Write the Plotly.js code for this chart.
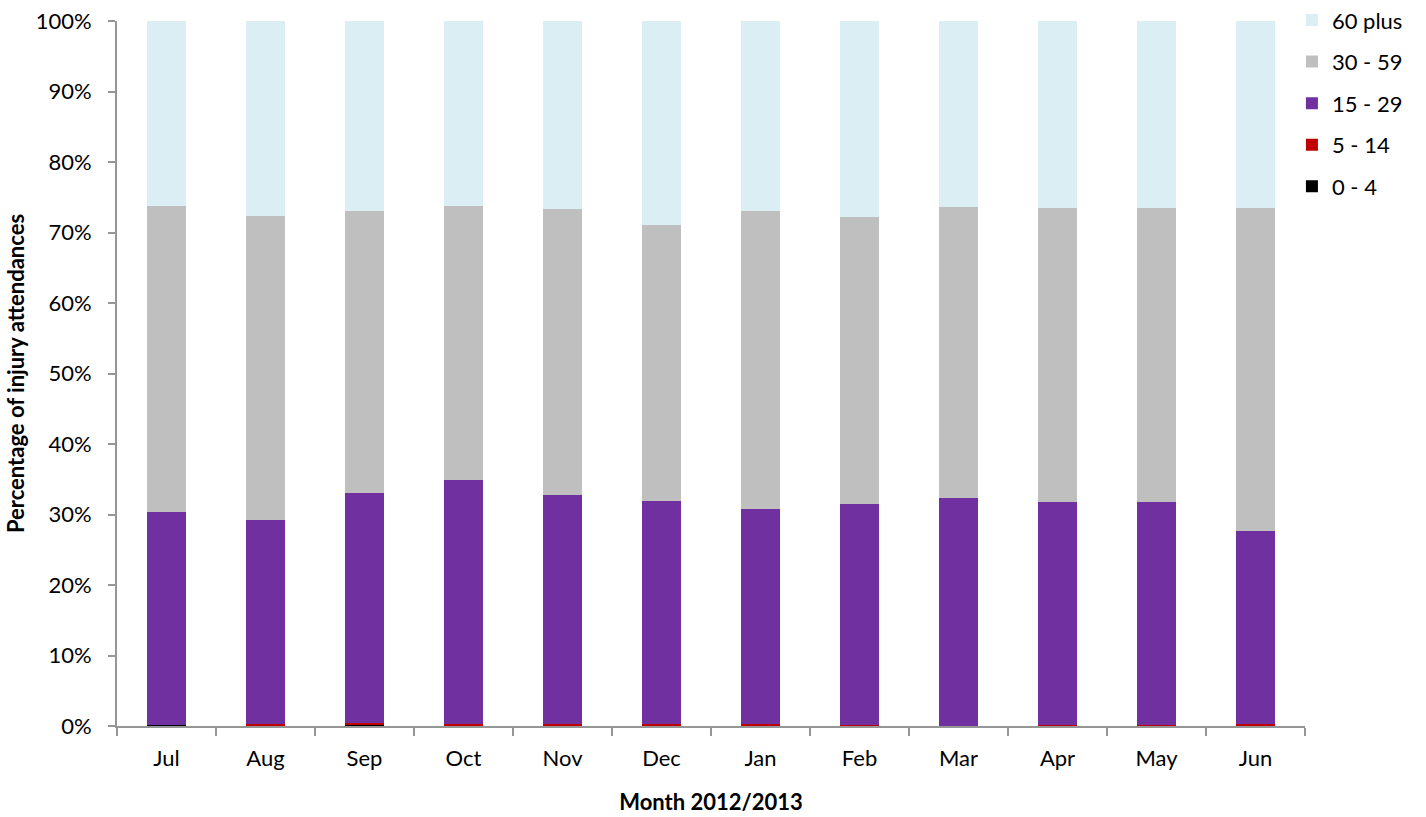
<!DOCTYPE html>
<html>
<head>
<meta charset="utf-8">
<script src="https://cdn.plot.ly/plotly-3.0.1.min.js"></script>
<style>html,body{margin:0;padding:0;background:#fff;}#chart{width:1426px;height:817px;}</style>
</head>
<body>
<div id="chart"></div>
<script>
const months = ["Jul","Aug","Sep","Oct","Nov","Dec","Jan","Feb","Mar","Apr","May","Jun"];
const age0to4   = [0.1, 0.05, 0.15, 0.05, 0.05, 0.05, 0.05, 0.05, 0.02, 0.05, 0.05, 0.05];
const age5to14  = [0.1, 0.25, 0.3, 0.25, 0.2, 0.2, 0.2, 0.1, 0.05, 0.1, 0.1, 0.25];
const age15to29 = [30.15, 28.9, 32.6, 34.6, 32.5, 31.65, 30.55, 31.35, 32.23, 31.65, 31.65, 27.4];
const age30to59 = [43.4, 43.1, 40.0, 38.9, 40.55, 39.15, 42.25, 40.7, 41.3, 41.7, 41.7, 45.8];
const age60plus = [26.25, 27.7, 26.95, 26.2, 26.7, 28.95, 26.95, 27.8, 26.4, 26.5, 26.5, 26.5];

const seriesNames = ["0 - 4", "5 - 14", "15 - 29", "30 - 59", "60 plus"];
const seriesData = [age0to4, age5to14, age15to29, age30to59, age60plus];
const seriesColors = ["#000000", "#C00000", "#7030A0", "#BFBFBF", "#DAEEF3"];

const traces = seriesNames.map((n, i) => ({
  type: "bar",
  name: n,
  x: months,
  y: seriesData[i],
  marker: {color: seriesColors[i], line: {width: 0}},
  legendrank: 100 - i,
  legendgroup: "g" + i,
  hoverinfo: "x+y+name"
}));

const fontFam = "Lato, 'Liberation Sans', sans-serif";
const layout = {
  width: 1426, height: 817,
  barmode: "stack",
  barnorm: "percent",
  bargap: 0.6,
  margin: {l: 117, r: 121, t: 21, b: 91, autoexpand: false},
  paper_bgcolor: "#fff",
  plot_bgcolor: "#fff",
  font: {family: fontFam, size: 22, color: "#000"},
  xaxis: {
    type: "category",
    tickson: "boundaries",
    ticks: "outside",
    ticklen: 8,
    tickcolor: "#969696",
    tickwidth: 2,
    showline: true,
    linecolor: "#969696",
    linewidth: 2,
    showgrid: false,
    zeroline: false,
    ticklabelstandoff: 12,
    tickfont: {family: fontFam, size: 22},
    title: {text: "<b>Month 2012/2013</b>", font: {family: fontFam, size: 22}, standoff: 24},
    automargin: false
  },
  yaxis: {
    range: [0, 100],
    tickvals: [0,10,20,30,40,50,60,70,80,90,100],
    ticktext: ["0%","10%","20%","30%","40%","50%","60%","70%","80%","90%","100%"],
    ticks: "outside",
    ticklen: 7,
    tickcolor: "#969696",
    tickwidth: 2,
    showline: true,
    linecolor: "#969696",
    linewidth: 2,
    showgrid: false,
    zeroline: false,
    ticklabelstandoff: 12,
    tickfont: {family: fontFam, size: 22},
    title: {text: "<b>Percentage of injury attendances</b>", font: {family: fontFam, size: 22}, standoff: 5},
    automargin: false
  },
  legend: {
    x: 0.989, xanchor: "left",
    y: 1.031, yanchor: "top",
    traceorder: "grouped",
    tracegroupgap: 10,
    font: {family: fontFam, size: 22},
    itemwidth: 30,
    bgcolor: "rgba(0,0,0,0)"
  },
  showlegend: true
};

Plotly.newPlot("chart", traces, layout, {displayModeBar: false, staticPlot: true});
</script>
</body>
</html>
